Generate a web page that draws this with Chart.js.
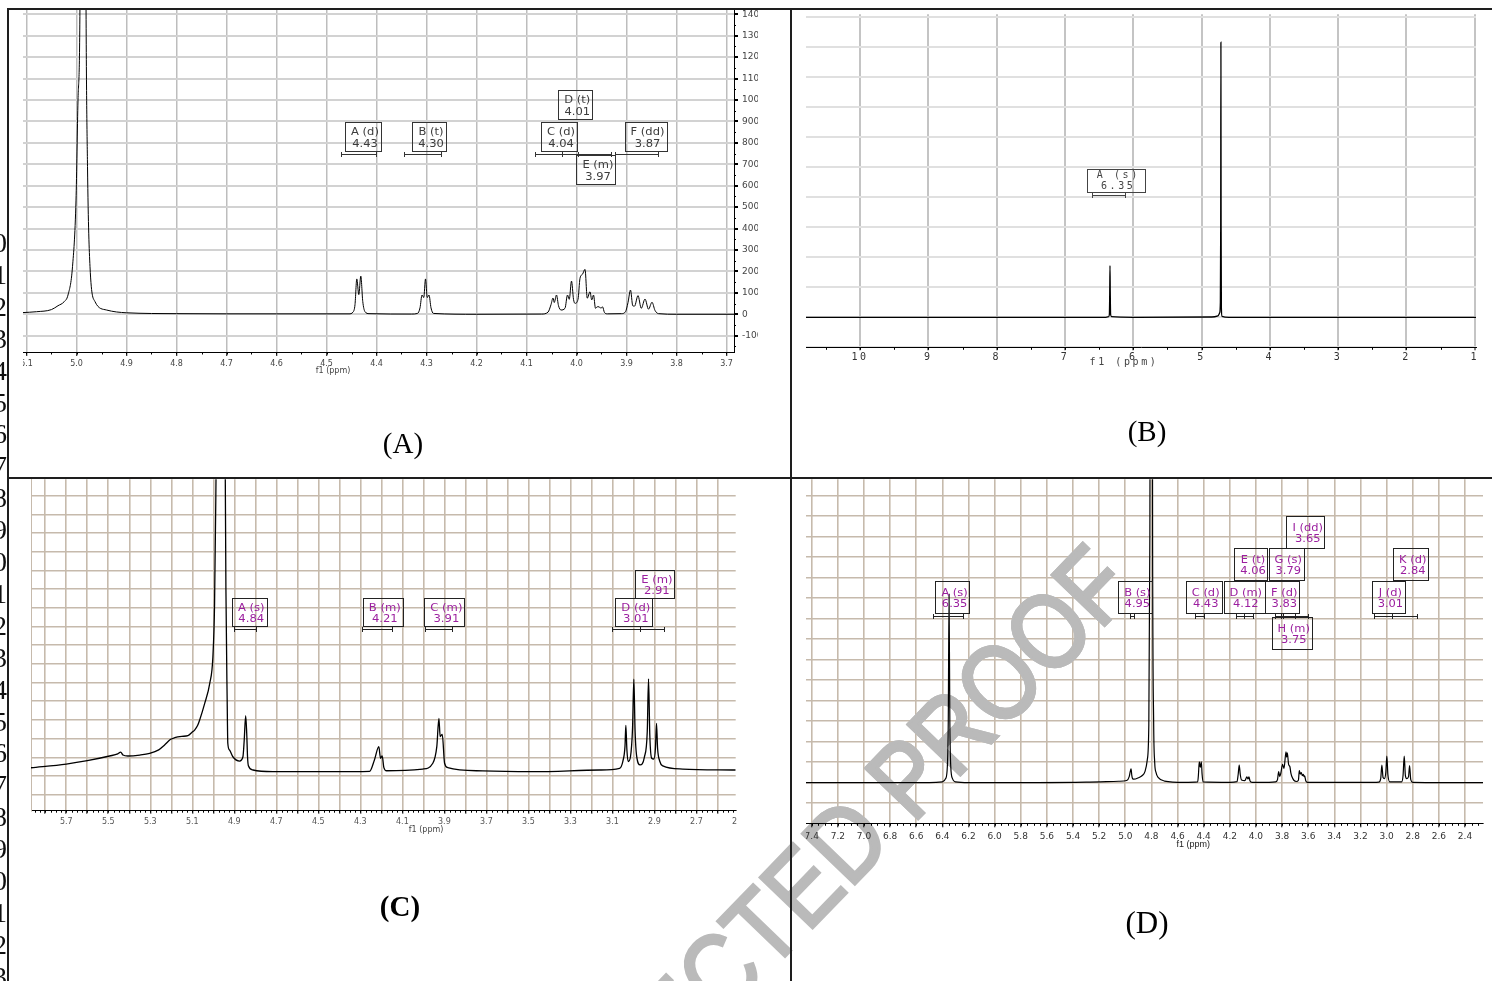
<!DOCTYPE html>
<html>
<head>
<meta charset="utf-8">
<script src="https://cdn.jsdelivr.net/npm/chart.js@4.4.1/dist/chart.umd.min.js"></script>
<style>
  body { margin: 0; width: 1492px; height: 981px; overflow: hidden; position: relative; background: #fff; }
  canvas { position: absolute; }
  .rule { position: absolute; background: #1e1e1e; }
  .ln { position: absolute; left: -12px; width: 19px; text-align: right; font: 28px "Liberation Serif"; line-height: 28px; color: #111; }
  .cap { position: absolute; font-family: "Liberation Serif"; color: #000; transform: translate(-50%, -50%); white-space: nowrap; line-height: 1; }
</style>
</head>
<body>
<canvas id="wm" width="1492" height="981" style="left:0;top:0"></canvas>
<canvas id="cA" width="735" height="380" style="left:23px;top:5px"></canvas>
<canvas id="cB" width="672" height="365" style="left:806px;top:10px"></canvas>
<canvas id="cC" width="706" height="360" style="left:31px;top:479px"></canvas>
<canvas id="cD" width="680" height="372" style="left:806px;top:479px"></canvas>

<div class="rule" style="left:8px;top:8px;width:1484px;height:2px"></div>
<div class="rule" style="left:7px;top:8px;width:2px;height:973px"></div>
<div class="rule" style="left:790px;top:8px;width:2px;height:973px"></div>
<div class="rule" style="left:8px;top:477px;width:1484px;height:2px"></div>

<div class="cap" style="left:403px;top:443px;font-size:29px">(A)</div>
<div class="cap" style="left:1147px;top:431px;font-size:29px">(B)</div>
<div class="cap" style="left:400px;top:906px;font-size:29px;font-weight:bold">(C)</div>
<div class="cap" style="left:1147px;top:922px;font-size:31px">(D)</div>

<script>
// ---------- spectrum A (ppm, intensity) ----------
const specA = [
  [5.107,8],[5.08,12],[5.05,22],[5.037,40],[5.025,58],[5.017,90],[5.008,222],[5.001,533],[4.997,1000],
  [4.993,1467],[4.987,6000],[4.981,1467],[4.978,689],[4.973,222],[4.963,59],[4.94,20],[4.90,7],[4.80,3],
  [4.60,2],[4.455,2],[4.447,10],[4.443,45],[4.4394,165],[4.4354,92],[4.4314,178],[4.4275,60],[4.423,12],
  [4.415,3],[4.33,1],[4.318,4],[4.313,30],[4.309,90],[4.3055,78],[4.302,165],[4.2985,78],[4.295,90],
  [4.291,30],[4.286,4],[4.20,0],[4.07,1],[4.057,10],[4.051,45],[4.047,76],[4.0445,55],[4.040,90],
  [4.036,40],[4.031,20],[4.023,28],[4.018,90],[4.0145,70],[4.010,155],[4.006,70],[4.003,51],[3.997,70],
  [3.993,168],[3.988,187],[3.983,210],[3.9785,75],[3.973,105],[3.9695,67],[3.966,90],[3.962,28],
  [3.9585,35],[3.955,35],[3.951,28],[3.948,35],[3.944,8],[3.938,2],[3.91,3],[3.902,12],[3.897,55],
  [3.892,113],[3.8875,40],[3.884,38],[3.877,87],[3.8705,28],[3.863,71],[3.856,24],[3.849,56],[3.843,18],
  [3.836,3],[3.80,0],[3.685,0]
];
const ticksA_x = [3.7,3.8,3.9,4.0,4.1,4.2,4.3,4.4,4.5,4.6,4.7,4.8,4.9,5.0,5.1];
const ticksA_y = [-100,0,100,200,300,400,500,600,700,800,900,1000,1100,1200,1300,1400];
const namesA = ['A (d)','B (t)','C (d)','D (t)','E (m)','F (dd)'];
const shiftsA = [4.43,4.30,4.04,4.01,3.97,3.87];
const rangesA = [[4.471,4.401],[4.345,4.272],[4.084,4.029],[4.029,3.997],[3.997,3.931],[3.923,3.837]];

// ---------- spectrum B ----------
const specB = [
  [10.792,0],[6.40,0],[6.36,0.02],[6.35,0.1],[6.345,0.8],[6.341,1.72],[6.337,0.8],[6.332,0.1],[6.32,0.02],
  [6.0,0],[4.85,0.01],[4.76,0.05],[4.735,0.15],[4.725,0.5],[4.720,3.0],[4.717,9.17],[4.714,3.0],
  [4.710,0.3],[4.70,0.03],[4.6,0],[0.982,0]
];
const ticksB_x = [1,2,3,4,5,6,7,8,9,10];
const ticksB_y = [-1,0,1,2,3,4,5,6,7,8,9,10];
const namesB = ['A (s)'];
const shiftsB = [6.35];
const rangesB = [[6.609,6.119]];

// ---------- spectrum C ----------
const specC = [
  [5.868,0.44],[5.70,0.64],[5.60,0.82],[5.494,1.07],[5.455,1.18],[5.441,1.28],[5.43,1.12],[5.407,1.07],
  [5.35,1.12],[5.303,1.21],[5.26,1.4],[5.232,1.66],[5.205,1.95],[5.184,2.05],[5.15,2.12],[5.121,2.16],
  [5.10,2.35],[5.089,2.46],[5.075,2.7],[5.065,3.0],[5.041,3.89],[5.017,4.96],[5.002,6.39],[4.994,9.25],
  [4.988,15],[4.964,45],[4.945,20],[4.940,10],[4.934,4],[4.931,1.75],[4.923,1.39],[4.907,1.03],
  [4.875,0.8],[4.859,1.03],[4.853,1.9],[4.846,3.23],[4.841,2.29],[4.837,1.0],[4.833,0.55],[4.811,0.32],
  [4.717,0.23],[4.431,0.23],[4.256,0.25],[4.233,0.86],[4.212,1.57],[4.204,0.95],[4.196,1.07],[4.188,0.45],
  [4.175,0.28],[4.003,0.37],[3.955,0.68],[3.936,1.57],[3.926,3.09],[3.920,2.11],[3.910,2.23],[3.899,0.68],
  [3.884,0.45],[3.717,0.27],[3.48,0.23],[3.162,0.32],[3.066,0.41],[3.050,0.8],[3.040,1.6],[3.036,2.71],
  [3.031,1.4],[3.025,0.77],[3.014,1.03],[3.004,2.6],[2.998,5.18],[2.992,2.4],[2.985,1.1],[2.968,0.59],
  [2.948,1.0],[2.934,2.4],[2.928,5.2],[2.922,2.2],[2.913,0.95],[2.903,0.91],[2.895,1.5],[2.890,2.82],
  [2.885,1.5],[2.875,0.8],[2.860,0.54],[2.765,0.37],[2.513,0.32]
];
const ticksC_x = [2.5,2.6,2.7,2.8,2.9,3.0,3.1,3.2,3.3,3.4,3.5,3.6,3.7,3.8,3.9,4.0,4.1,4.2,4.3,4.4,4.5,
                  4.6,4.7,4.8,4.9,5.0,5.1,5.2,5.3,5.4,5.5,5.6,5.7,5.8];
const labelsC_x = [2.5,2.7,2.9,3.1,3.3,3.5,3.7,3.9,4.1,4.3,4.5,4.7,4.9,5.1,5.3,5.5,5.7];
const ticksC_y = [-1,0,1,2,3,4,5,6,7,8,9,10,11,12,13,14,15];
const namesC = ['A (s)','B (m)','C (m)','D (d)','E (m)'];
const shiftsC = [4.84,4.21,3.91,3.01,2.91];
const rangesC = [[4.903,4.798],[4.291,4.148],[3.990,3.863],[3.103,2.967],[2.967,2.856]];

// ---------- spectrum D ----------
const specD = [
  [7.444,0],[6.50,0],[6.40,0.04],[6.375,0.2],[6.362,0.8],[6.355,3.0],[6.349,9.19],[6.343,3.0],[6.336,0.8],
  [6.323,0.2],[6.30,0.04],[6.20,0],[5.30,0.03],[5.05,0.07],[4.989,0.11],[4.970,0.3],[4.962,0.55],
  [4.956,0.67],[4.950,0.35],[4.944,0.2],[4.935,0.17],[4.90,0.24],[4.87,0.35],[4.849,0.55],[4.832,1.1],
  [4.82,2.8],[4.812,12],[4.80,60],[4.791,12],[4.783,3],[4.775,1.0],[4.765,0.5],[4.747,0.25],[4.70,0.08],
  [4.55,0.02],[4.446,0.04],[4.440,0.4],[4.434,1.02],[4.426,0.75],[4.418,1.02],[4.412,0.4],[4.405,0.04],
  [4.20,0.02],[4.145,0.05],[4.136,0.4],[4.128,0.86],[4.120,0.4],[4.11,0.13],[4.085,0.1],[4.069,0.29],
  [4.061,0.18],[4.053,0.28],[4.045,0.08],[4.03,0.02],[3.90,0.02],[3.85,0.04],[3.835,0.15],[3.826,0.54],
  [3.818,0.3],[3.81,0.45],[3.796,0.9],[3.785,0.7],[3.770,1.51],[3.765,1.25],[3.760,1.46],[3.750,0.9],
  [3.740,0.78],[3.732,0.45],[3.725,0.3],[3.71,0.12],[3.69,0.06],[3.675,0.12],[3.668,0.59],[3.660,0.42],
  [3.653,0.49],[3.645,0.35],[3.637,0.41],[3.632,0.3],[3.627,0.33],[3.618,0.08],[3.605,0.02],[3.10,0.02],
  [3.06,0.03],[3.045,0.2],[3.036,0.86],[3.027,0.25],[3.017,0.2],[3.006,0.5],[2.998,1.3],[2.990,0.4],
  [2.975,0.04],[2.885,0.04],[2.874,0.35],[2.865,1.3],[2.856,0.35],[2.845,0.2],[2.832,0.3],[2.824,0.83],
  [2.815,0.15],[2.80,0.02],[2.262,0]
];
const ticksD_x = [2.4,2.6,2.8,3.0,3.2,3.4,3.6,3.8,4.0,4.2,4.4,4.6,4.8,5.0,5.2,5.4,5.6,5.8,6.0,6.2,6.4,
                  6.6,6.8,7.0,7.2,7.4];
const ticksD_y = [-1,0,1,2,3,4,5,6,7,8,9,10,11,12,13,14];
const namesD = ['A (s)','B (s)','C (d)','D (m)','E (t)','F (d)','G (s)','H (m)','I (dd)','J (d)','K (d)'];
const shiftsD = [6.35,4.95,4.43,4.12,4.06,3.83,3.79,3.75,3.65,3.01,2.84];
const rangesD = [[6.469,6.240],[4.966,4.933],[4.464,4.398],[4.153,4.094],[4.094,4.025],[3.852,3.809],
                 [3.809,3.791],[3.791,3.701],[3.701,3.60],[3.096,2.958],[2.958,2.770]];

// page line numbers on the left margin
const lineNos = ['0','1','2','3','4','5','6','7','8','9','0','1','2','3','4','5','6','7','8','9','0','1','2','3'];

// ---------- layout (label box anchors in data units, not data) ----------
const decor = {
  cA: { left: 23, top: 5, names: namesA, shifts: shiftsA, ranges: rangesA, bracketY: 748,
        pos: [[4.427,897],[4.295,897],[4.035,897],[4.0025,1047],[3.961,743],[3.862,897]],
        font: '10px "DejaVu Sans"', color: '#3c3c3c', box: '#333', sx: 1.15, padW: 8, boxH: 29, l1: 10.2, l2: 22.5,
        minorX: [3.70, 5.10, 0.05, 2.5], minorY: [-150, 1400, 50, 2],
        title: { text: 'f1 (ppm)', at: 4.487, dy: 19, font: '8px "DejaVu Sans"', color: '#444' } },
  cB: { left: 806, top: 10, names: namesB, shifts: shiftsB, ranges: rangesB, bracketY: 4.09, spacing: '2.6px',
        pos: [[6.25,4.93]],
        font: '10px "DejaVu Sans Mono"', color: '#444', box: '#444', sx: 1, padW: 15, boxH: 23, l1: 6.7, l2: 17.7,
        minorX: [1.5, 10.5, 0.5, 2.5],
        title: { text: 'f1 (ppm)', at: 6.136, dy: 15, font: '10px "DejaVu Sans Mono"', color: '#444' } },
  cC: { left: 31, top: 479, names: namesC, shifts: shiftsC, ranges: rangesC, bracketY: 7.87,
        pos: [[4.829,9.52],[4.193,9.52],[3.900,9.52],[2.998,9.52],[2.898,11.03]],
        font: '10px "DejaVu Sans"', color: '#9b1f9f', box: '#222', sx: 1.16, padW: 8, boxH: 28, l1: 10.7, l2: 21,
        minorX: [2.525, 5.85, 0.025, 2],
        title: { text: 'f1 (ppm)', at: 3.987, dy: 19.3, font: '8px "DejaVu Sans"', color: '#444' } },
  cD: { left: 806, top: 479, names: namesD, shifts: shiftsD, ranges: rangesD, bracketY: 8.15,
        pos: [[6.322,9.84],[4.923,9.84],[4.400,9.84],[4.093,9.84],[4.038,11.43],[3.799,9.84],[3.768,11.43],
              [3.726,8.07],[3.619,13.02],[2.986,9.84],[2.815,11.43]],
        font: '11px "DejaVu Sans"', color: '#9b1f9f', box: '#222', sx: 1.04, padW: 8, boxH: 31.5, l1: 12.3, l2: 23,
        minorX: [2.3, 7.4, 0.05, 2.5],
        title: { text: 'f1 (ppm)', at: 4.48, dy: 21.7, font: '9px "Liberation Sans"', color: '#222' } }
};

// watermark over the lower right part of the page (slightly condensed)
const WM = { text: 'CORRECTED PROOF', x: 1138, y: 591, angle: -46, sx: 0.86,
             font: '106px "Liberation Sans"', color: '#bababa' };

function drawWatermark(ctx, dx, dy) {
  ctx.save();
  ctx.letterSpacing = '0px';
  ctx.translate(WM.x + dx, WM.y + dy);
  ctx.rotate(WM.angle * Math.PI / 180);
  ctx.scale(WM.sx, 1);
  ctx.font = WM.font;
  ctx.fillStyle = WM.color;
  ctx.strokeStyle = WM.color;
  ctx.lineWidth = 3;
  ctx.textAlign = 'right';
  ctx.textBaseline = 'alphabetic';
  ctx.fillText(WM.text, 0, 0);
  ctx.strokeText(WM.text, 0, 0);
  ctx.restore();
}

function stretchText(ctx, s, x, y, sx) {
  ctx.save();
  ctx.translate(x, y);
  ctx.scale(sx, 1);
  ctx.fillText(s, 0, 0);
  ctx.restore();
}

function minorTicks(ctx, scale, a, m, vertical) {
  const n = Math.round((m[1] - m[0]) / m[2]);
  ctx.beginPath();
  for (let i = 0; i <= n; i++) {
    const v = m[0] + i * m[2];
    if (v < scale.min || v > scale.max) continue;
    const p = Math.round(scale.getPixelForValue(v)) + 0.5;
    if (vertical) { ctx.moveTo(a.right, p); ctx.lineTo(a.right + m[3], p); }
    else { ctx.moveTo(p, a.bottom); ctx.lineTo(p, a.bottom + m[3]); }
  }
  ctx.stroke();
}

const nmrDecor = {
  id: 'nmrDecor',
  beforeDraw(chart) {
    const o = decor[chart.canvas.id];
    if (o.spacing) chart.ctx.letterSpacing = o.spacing;
  },
  beforeDatasetsDraw(chart) {
    const o = decor[chart.canvas.id], a = chart.chartArea, ctx = chart.ctx;
    ctx.save();
    ctx.beginPath();
    ctx.rect(a.left, a.top, a.right - a.left, a.bottom - a.top - 1);
    ctx.clip();
    drawWatermark(ctx, -o.left, -o.top);
    ctx.restore();
  },
  afterDatasetsDraw(chart) {
    const o = decor[chart.canvas.id], ctx = chart.ctx;
    const xs = chart.scales.x, ys = chart.scales.y;
    ctx.save();
    ctx.font = o.font;
    ctx.fillStyle = o.color;
    ctx.strokeStyle = o.box;
    ctx.lineWidth = 1;
    ctx.textAlign = 'center';
    ctx.textBaseline = 'middle';
    o.names.forEach((nm, i) => {
      const l2 = o.shifts[i].toFixed(2);
      const w = Math.max(ctx.measureText(nm).width, ctx.measureText(l2).width) * o.sx + o.padW;
      const cx = xs.getPixelForValue(o.pos[i][0]);
      const top = Math.round(ys.getPixelForValue(o.pos[i][1]));
      ctx.strokeRect(Math.round(cx - w / 2) + 0.5, top + 0.5, Math.round(w), Math.round(o.boxH));
      stretchText(ctx, nm, cx + 2, top + o.l1, o.sx);
      stretchText(ctx, l2, cx + 2, top + o.l2, o.sx);
    });
    // integration brackets
    const by = Math.round(ys.getPixelForValue(o.bracketY)) + 0.5;
    ctx.beginPath();
    o.ranges.forEach(r => {
      const x1 = Math.round(xs.getPixelForValue(r[0])) + 0.5, x2 = Math.round(xs.getPixelForValue(r[1])) + 0.5;
      ctx.moveTo(x1, by); ctx.lineTo(x2, by);
      ctx.moveTo(x1, by - 2.5); ctx.lineTo(x1, by + 2.5);
      ctx.moveTo(x2, by - 2.5); ctx.lineTo(x2, by + 2.5);
    });
    ctx.stroke();
    ctx.restore();
  },
  afterDraw(chart) {
    const o = decor[chart.canvas.id], ctx = chart.ctx, a = chart.chartArea;
    ctx.save();
    ctx.strokeStyle = '#000';
    ctx.lineWidth = 1;
    if (o.minorX) minorTicks(ctx, chart.scales.x, a, o.minorX, false);
    if (o.minorY) minorTicks(ctx, chart.scales.y, a, o.minorY, true);
    const t = o.title;
    ctx.font = t.font;
    ctx.fillStyle = t.color;
    ctx.textAlign = 'center';
    ctx.textBaseline = 'middle';
    ctx.fillText(t.text, chart.scales.x.getPixelForValue(t.at), a.bottom + t.dy);
    ctx.restore();
  }
};

function nmrChart(id, c) {
  return new Chart(document.getElementById(id), {
    type: 'line',
    data: {
      datasets: [{
        data: c.spec.map(p => ({ x: p[0], y: p[1] })),
        borderColor: '#000',
        borderWidth: c.lw,
        pointRadius: 0,
        cubicInterpolationMode: 'monotone',
        fill: false
      }]
    },
    plugins: [nmrDecor],
    options: {
      responsive: false,
      animation: false,
      devicePixelRatio: 1,
      events: [],
      layout: { autoPadding: false, padding: c.pad },
      plugins: { legend: { display: false }, tooltip: { enabled: false } },
      scales: {
        x: {
          type: 'linear', reverse: true, bounds: 'data', min: c.xr[0], max: c.xr[1],
          afterBuildTicks: s => { s.ticks = c.xTicks.map(v => ({ value: v })); },
          afterFit: s => { s.height = c.xH; s.paddingLeft = 0; s.paddingRight = 0; },
          ticks: { autoSkip: false, maxRotation: 0, minRotation: 0, padding: c.tickPad, color: c.tickColor,
                   font: c.tickFont, callback: c.xLabel },
          grid: { color: c.gridX, lineWidth: c.gridXW, tickLength: c.tickLen, tickColor: '#000', tickWidth: 1 },
          border: { display: true, color: '#000', width: 1 }
        },
        y: {
          type: 'linear', position: c.yPos || 'left', bounds: 'data', min: c.yr[0], max: c.yr[1],
          afterBuildTicks: s => { s.ticks = c.yTicks.map(v => ({ value: v })); },
          afterFit: s => { s.width = c.yW || 0; s.paddingTop = 0; s.paddingBottom = 0; },
          ticks: { display: !!c.yLabels, padding: 4, color: c.tickColor, font: c.yFont || c.tickFont, callback: v => String(v) },
          grid: { color: c.gridY, lineWidth: c.gridYW, drawTicks: !!c.yLabels, tickLength: 4, tickColor: '#000' },
          border: { display: !!c.yBorder, color: c.yBorder || '#000', width: 1 }
        }
      }
    }
  });
}

// background watermark layer
drawWatermark(document.getElementById('wm').getContext('2d'), 0, 0);

nmrChart('cA', {
  spec: specA, lw: 1, pad: { top: 5, left: 0, right: 0, bottom: 0 },
  xr: [3.685, 5.107], xTicks: ticksA_x, xH: 33, tickPad: 3.5, tickLen: 4,
  xLabel: v => v.toFixed(1), tickColor: '#444', tickFont: { family: 'DejaVu Sans', size: 8 },
  gridX: '#bdbdbd', gridXW: 1.5,
  yr: [-176, 1420], yTicks: ticksA_y, yPos: 'right', yW: 24, yLabels: true, yBorder: '#000',
  yFont: { family: 'DejaVu Sans', size: 9 },
  gridY: '#d2d2d2', gridYW: 2
});

nmrChart('cB', {
  spec: specB, lw: 1.3, pad: { top: 4.3, left: 0, right: 2, bottom: 0 },
  xr: [0.982, 10.792], xTicks: ticksB_x, xH: 27.7, tickPad: 1, tickLen: 3,
  xLabel: v => String(v), tickColor: '#333', tickFont: { family: 'DejaVu Sans Mono', size: 10 },
  gridX: '#c4c4c4', gridXW: 2,
  yr: [-1, 10.1], yTicks: ticksB_y, gridY: '#e0e0e0', gridYW: 2
});

nmrChart('cC', {
  spec: specC, lw: 1.3, pad: { top: 0.3, left: 0, right: 1.3, bottom: 0 },
  xr: [2.513, 5.868], xTicks: ticksC_x, xH: 28.3, tickPad: 3.5, tickLen: 3,
  xLabel: v => labelsC_x.some(l => Math.abs(l - v) < 1e-6) ? v.toFixed(1) : '',
  tickColor: '#555', tickFont: { family: 'DejaVu Sans', size: 8 },
  gridX: '#c6baac', gridXW: 1.6,
  yr: [-1.86, 15.89], yTicks: ticksC_y, yBorder: '#c6baac', gridY: '#c6baac', gridYW: 1.6
});

nmrChart('cD', {
  spec: specD, lw: 1.2, pad: { top: 0.3, left: 0, right: 3, bottom: 0 },
  xr: [2.262, 7.444], xTicks: ticksD_x, xH: 27.7, tickPad: 3.7, tickLen: 4,
  xLabel: v => v.toFixed(1), tickColor: '#333', tickFont: { family: 'DejaVu Sans', size: 9 },
  gridX: '#c6baac', gridXW: 1.6,
  yr: [-1.98, 14.8], yTicks: ticksD_y, gridY: '#c6baac', gridYW: 1.6
});

// margin line numbers
lineNos.forEach((d, i) => {
  const el = document.createElement('div');
  el.className = 'ln';
  el.textContent = d;
  el.style.top = (243 + i * 31.9 - 14) + 'px';
  document.body.appendChild(el);
});
</script>
</body>
</html>
